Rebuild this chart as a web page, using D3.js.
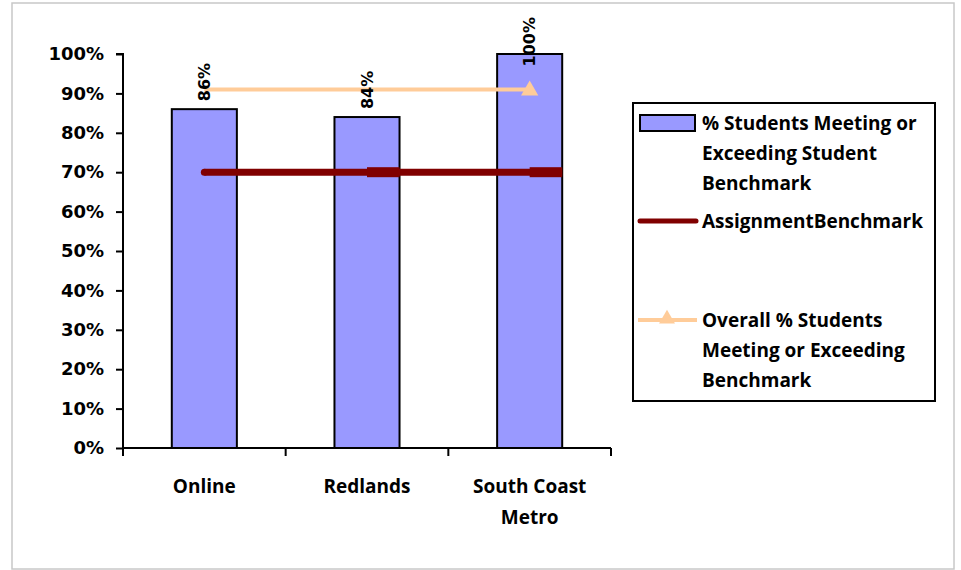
<!DOCTYPE html>
<html>
<head>
<meta charset="utf-8">
<script src="https://cdn.jsdelivr.net/npm/d3@7"></script>
<style>
  html, body { margin: 0; padding: 0; background: #fff; }
  svg { display: block; }
</style>
</head>
<body>
<svg id="chart" width="961" height="570"></svg>
<script>
const categories = ["Online", "Redlands", "South Coast Metro"];
const categoryLines = [["Online"], ["Redlands"], ["South Coast", "Metro"]];
const studentPct = [0.86, 0.84, 1.00];
const dataLabels = ["86%", "84%", "100%"];
const assignmentBenchmark = [0.70, 0.70, 0.70];
const overallPct = [0.91, 0.91, 0.91];
const yTicks = [0, 0.1, 0.2, 0.3, 0.4, 0.5, 0.6, 0.7, 0.8, 0.9, 1.0];
const legendItems = [
  ["% Students Meeting or", "Exceeding Student", "Benchmark"],
  ["AssignmentBenchmark"],
  ["Overall % Students", "Meeting or Exceeding", "Benchmark"]
];

const svg = d3.select("#chart");
const barColor = "#9999FF";
const benchColor = "#800000";
const overallColor = "#FFCC99";
const tickFont = "'DejaVu Sans', Verdana, sans-serif";
const textFont = "'Open Sans', Calibri, sans-serif";

// outer frame
svg.append("rect").attr("x", 12).attr("y", 3).attr("width", 942).attr("height", 566)
  .attr("fill", "none").attr("stroke", "#c8c8c8").attr("stroke-width", 1.5);

const plot = { left: 123, right: 611, top: 54, bottom: 448 };
const x = d3.scaleBand().domain(categories).range([plot.left, plot.right]).padding(0);
const y = d3.scaleLinear().domain([0, 1]).range([plot.bottom, plot.top]);
const bw = x.bandwidth() * 0.4;
const cx = c => x(c) + x.bandwidth() / 2;

// bars
svg.append("g").selectAll("rect").data(categories).join("rect")
  .attr("x", c => cx(c) - bw / 2)
  .attr("y", (c, i) => y(studentPct[i]))
  .attr("width", bw)
  .attr("height", (c, i) => y(0) - y(studentPct[i]))
  .attr("fill", barColor).attr("stroke", "#000").attr("stroke-width", 2);

// y axis
const yAxis = d3.axisLeft(y).tickValues(yTicks).tickFormat(d3.format(".0%")).tickSize(7).tickPadding(12);
const yg = svg.append("g").attr("transform", `translate(${plot.left},0)`).call(yAxis);
yg.select(".domain").attr("stroke", "#000").attr("stroke-width", 2).attr("d", `M-7,${plot.top}H0V${plot.bottom}`);
yg.selectAll(".tick line").attr("stroke", "#000").attr("stroke-width", 2);
yg.selectAll(".tick text").attr("font-family", tickFont).attr("font-weight", "bold")
  .attr("font-size", 18).attr("fill", "#000");

// x axis line and ticks at band boundaries
const xg = svg.append("g");
xg.append("line").attr("x1", plot.left).attr("x2", plot.right)
  .attr("y1", plot.bottom).attr("y2", plot.bottom).attr("stroke", "#000").attr("stroke-width", 2);
const bounds = categories.map(c => x(c)).concat([x.range()[1]]);
xg.selectAll("line.tk").data(bounds).join("line").attr("class", "tk")
  .attr("x1", d => d).attr("x2", d => d).attr("y1", plot.bottom).attr("y2", plot.bottom + 8)
  .attr("stroke", "#000").attr("stroke-width", 2);
xg.selectAll("text").data(categories).join("text")
  .attr("x", c => cx(c)).attr("y", 493)
  .attr("text-anchor", "middle").attr("font-family", textFont).attr("font-weight", "bold")
  .attr("font-size", 19).attr("fill", "#000")
  .each(function(c, i) {
    const t = d3.select(this);
    categoryLines[i].forEach((ln, k) => {
      t.append("tspan").attr("x", cx(c)).attr("dy", k === 0 ? 0 : 31).text(ln);
    });
  });

// assignment benchmark line
const benchLine = d3.line().x((d, i) => cx(categories[i]) + (i === categories.length - 1 ? bw / 2 : 0)).y(d => y(d));
svg.append("path").attr("d", benchLine(assignmentBenchmark))
  .attr("fill", "none").attr("stroke", benchColor).attr("stroke-width", 7);
svg.append("circle").attr("cx", cx(categories[0])).attr("cy", y(assignmentBenchmark[0])).attr("r", 3.5).attr("fill", benchColor);
svg.append("g").selectAll("rect").data(assignmentBenchmark.slice(1)).join("rect")
  .attr("x", (d, i) => cx(categories[i + 1]))
  .attr("y", d => y(d) - 5)
  .attr("width", bw / 2).attr("height", 10).attr("fill", benchColor);

// overall line
const overallLine = d3.line().x((d, i) => cx(categories[i])).y(d => y(d));
svg.append("path").attr("d", overallLine(overallPct))
  .attr("fill", "none").attr("stroke", overallColor).attr("stroke-width", 4);
const last = overallPct.length - 1;
svg.append("path")
  .attr("d", d3.symbol().type(d3.symbolTriangle).size(130)())
  .attr("transform", `translate(${cx(categories[last])},${y(overallPct[last]) + 1})`)
  .attr("fill", overallColor);

// data labels (rotated)
svg.append("g").selectAll("text").data(categories).join("text")
  .attr("font-family", tickFont).attr("font-weight", "bold").attr("font-size", 16).attr("fill", "#000")
  .attr("dy", "0.35em")
  .text((c, i) => dataLabels[i])
  .attr("transform", function(c, i) {
    const len = this.getComputedTextLength();
    const bottom = Math.max(y(studentPct[i]) - 8, 17 + len);
    return `translate(${cx(c)},${bottom}) rotate(-90)`;
  });

// legend
const lg = svg.append("g");
lg.append("rect").attr("x", 633).attr("y", 103).attr("width", 302).attr("height", 298)
  .attr("fill", "#fff").attr("stroke", "#000").attr("stroke-width", 2);
const legendY = [[123, 153, 183], [221], [320, 350, 380]];
lg.append("rect").attr("x", 640).attr("y", 115).attr("width", 55).attr("height", 16)
  .attr("fill", barColor).attr("stroke", "#000").attr("stroke-width", 2);
lg.append("line").attr("x1", 640).attr("x2", 696).attr("y1", 221).attr("y2", 221)
  .attr("stroke", benchColor).attr("stroke-width", 5).attr("stroke-linecap", "round");
lg.append("line").attr("x1", 638).attr("x2", 697).attr("y1", 320).attr("y2", 320)
  .attr("stroke", overallColor).attr("stroke-width", 4);
lg.append("path").attr("d", d3.symbol().type(d3.symbolTriangle).size(110)())
  .attr("transform", "translate(667,319)").attr("fill", overallColor);
legendItems.forEach((lines, i) => {
  lines.forEach((ln, k) => {
    lg.append("text").attr("x", 702).attr("y", legendY[i][k]).attr("dy", "0.35em")
      .attr("font-family", textFont).attr("font-weight", "bold").attr("font-size", 19)
      .attr("fill", "#000").text(ln);
  });
});
</script>
</body>
</html>
